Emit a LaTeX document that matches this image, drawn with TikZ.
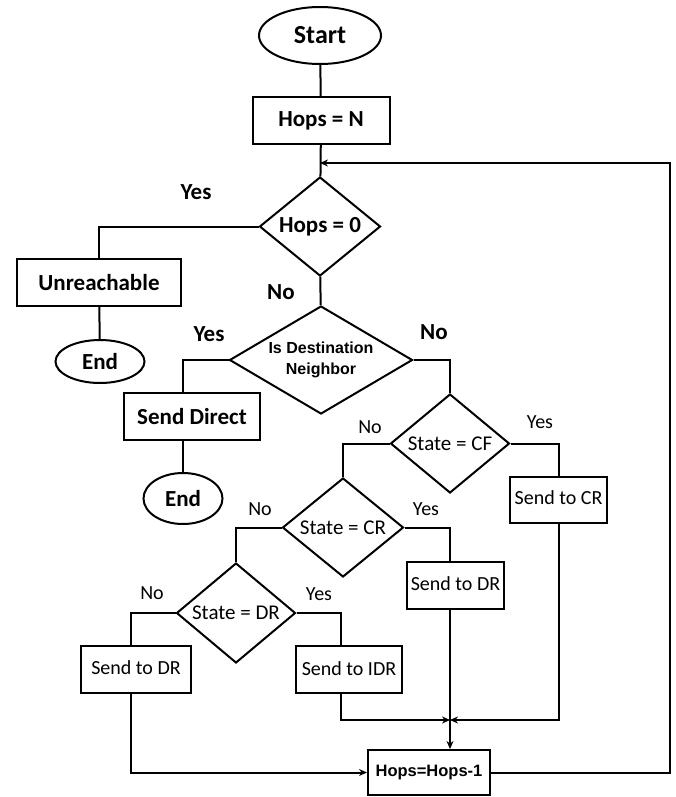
\documentclass[tikz,border=0pt]{standalone}
\usepackage{fontspec}
\setmainfont{Carlito}
\newfontfamily\arialf{Liberation Sans}
\usetikzlibrary{shapes.geometric,arrows.meta,calc}
\begin{document}
\begin{tikzpicture}[x=1pt,y=-1pt,
  every node/.style={inner sep=0pt},
  ln/.style={line width=2pt},
  arr/.style={line width=2pt,-{Stealth[length=8pt,width=7pt]}},
  box/.style={draw,line width=2pt,rectangle},
  dia/.style={draw,line width=2pt,diamond,aspect=1.2},
  ell/.style={draw,line width=2pt,ellipse},
  bigb/.style={font=\fontsize{23}{27}\selectfont\bfseries},
  reg/.style={font=\fontsize{20}{24}\selectfont},
  lblb/.style={font=\fontsize{23}{27}\selectfont\bfseries},
  lbl/.style={font=\fontsize{20}{24}\selectfont},
]
\useasboundingbox[fill=white] (0,0) rectangle (675,797);

\node[ell,minimum width=122,minimum height=57,font=\fontsize{26}{30}\selectfont\bfseries] (start) at (320,35.5) {Start};
\node[box,minimum width=137,minimum height=47,bigb] (hn) at (321,120.5) {Hops = N};
\node[dia,minimum width=121,minimum height=99,bigb] (h0) at (320,226.5) {Hops = 0};
\node[box,minimum width=164,minimum height=47,bigb] (un) at (99,282.5) {Unreachable};
\node[ell,minimum width=89,minimum height=43,bigb] (e1) at (100,361.5) {End};
\node[dia,aspect=1.7,minimum width=183,minimum height=108,align=center,font=\arialf\fontsize{16}{21}\selectfont\bfseries] (isd) at (321,360) {Is Destination\\Neighbor};
\node[box,minimum width=136,minimum height=47,bigb] (sd) at (192,416.5) {Send Direct};
\node[ell,minimum width=79,minimum height=51,bigb] (e2) at (183,498.5) {End};
\node[dia,minimum width=119,minimum height=99,font=\fontsize{21}{25}\selectfont] (cf) at (450,443.5) {State = CF};
\node[box,minimum width=97,minimum height=46,reg] (scr) at (558.5,500) {\raisebox{4pt}{Send to CR}};
\node[dia,minimum width=121,minimum height=99,font=\fontsize{21}{25}\selectfont] (cr) at (343,527.5) {State = CR};
\node[box,minimum width=97,minimum height=47,reg] (sdr2) at (455.5,585.5) {\raisebox{4pt}{Send to DR}};
\node[dia,minimum width=119,minimum height=100,font=\fontsize{21}{25}\selectfont] (dr) at (236,613) {State = DR};
\node[box,minimum width=106,minimum height=47,reg] (sidr) at (349,669.5) {\raisebox{2pt}{Send to IDR}};
\node[box,minimum width=110,minimum height=47,reg] (sdr1) at (136,669.5) {\raisebox{4pt}{Send to DR}};
\node[box,minimum width=122,minimum height=45,font=\arialf\fontsize{16.5}{20}\selectfont\bfseries] (hm) at (429,772.5) {Hops=Hops-1};

\coordinate (lp) at (320,163);
\coordinate (rc) at (670,163);
\coordinate (mg) at (450,720);
\coordinate (xi) at (341,720);
\coordinate (xl) at (131,720);

\draw[ln] (start) -- (hn);
\draw[ln] (hn) -- (h0);
\draw[arr] (hm.east) -| (rc) -- (lp);
\draw[ln] (h0.west) -| (un.north);
\draw[ln] (un) -- (e1);
\draw[ln] (h0) -- (isd);
\draw[ln] (isd.west) -| (sd.north -| e2);
\draw[ln] (sd.south -| e2) -- (e2.north);
\draw[ln] (isd.east) -| (cf.north);
\draw[ln] (cf.east) -| (scr.north);
\draw[ln] (cf.west) -| (cr.north);
\draw[ln] (cr.east) -| (sdr2.north -| cf);
\draw[ln] (cr.west) -| (dr.north);
\draw[ln] (dr.east) -| (sidr.north -| xi);
\draw[ln] (dr.west) -| (sdr1.north -| xl);
\draw[arr] (sidr.south -| xi) |- (mg);
\draw[arr] (scr.south) |- (mg);
\draw[arr] (sdr2.south -| cf) -- (hm.north -| cf);
\draw[arr] (sdr1.south -| xl) |- (hm.west);

\node[lblb] (y1) at (196,192) {Yes};
\node[lblb] (n1) at (281,292) {No};
\node[lblb] (y2) at (209,334) {Yes};
\node[lblb] (n2) at (434,332) {No};
\node[lbl] (n3) at (370,427) {No};
\node[lbl] (y3) at (540,422) {Yes};
\node[lbl] (n4) at (260,509) {No};
\node[lbl] (y4) at (426,509) {Yes};
\node[lbl] (n5) at (152,593) {No};
\node[lbl] (y5) at (319,594) {Yes};
\end{tikzpicture}
\end{document}
